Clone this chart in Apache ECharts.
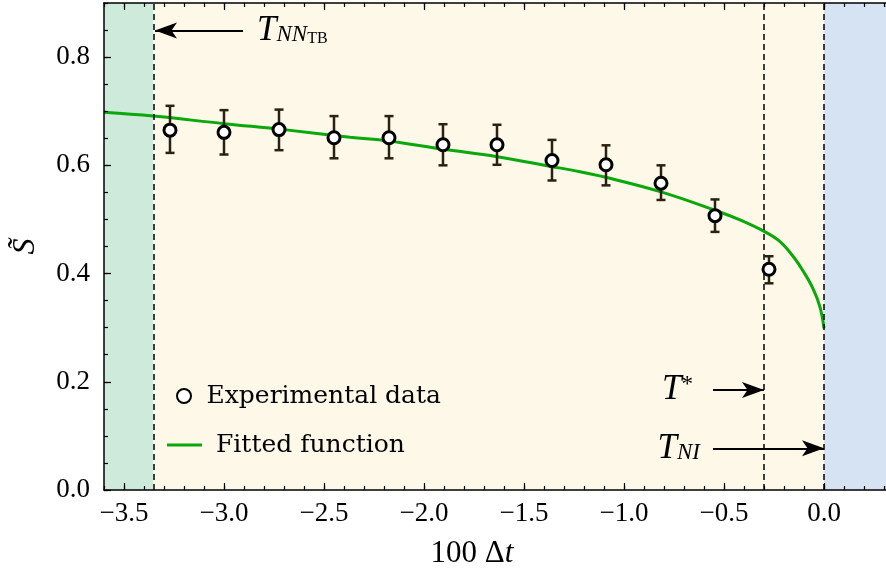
<!DOCTYPE html>
<html>
<head>
<meta charset="utf-8">
<script src="https://cdn.jsdelivr.net/npm/echarts@6.0.0/dist/echarts.min.js"></script>
<style>
  html, body { margin: 0; padding: 0; background: #fff; }
  #chart { width: 886px; height: 577px; }
</style>
</head>
<body>
<div id="chart"></div>
<script>
// measured points (100 Δt, S~) and their error bars
var expX  = [-3.27, -3.00, -2.725, -2.45, -2.175, -1.905, -1.635, -1.36, -1.09, -0.815, -0.545, -0.275];
var expY  = [0.665, 0.661, 0.666, 0.651, 0.651, 0.638, 0.638, 0.609, 0.601, 0.567, 0.507, 0.408];
var errLo = [0.623, 0.620, 0.628, 0.613, 0.613, 0.600, 0.601, 0.572, 0.563, 0.536, 0.477, 0.382];
var errHi = [0.710, 0.702, 0.703, 0.691, 0.691, 0.676, 0.675, 0.647, 0.637, 0.600, 0.537, 0.432];

// fitted curve
var fitX = [-3.6, -3.355, -3.0, -2.7, -2.37, -2.175, -1.91, -1.635, -1.365, -1.22, -1.07, -0.815, -0.545, -0.42, -0.295, -0.22, -0.153, -0.1, -0.055, -0.02, 0];
var fitY = [0.698, 0.691, 0.677, 0.666, 0.652, 0.645, 0.630, 0.616, 0.598, 0.588, 0.576, 0.551, 0.517, 0.499, 0.477, 0.459, 0.431, 0.402, 0.372, 0.338, 0.299];

// tick labels
var xMajorTicks = [-3.5, -3.0, -2.5, -2.0, -1.5, -1.0, -0.5, 0.0];
var yMajorTicks = [0.0, 0.2, 0.4, 0.6, 0.8];

// phase boundaries
var tNNTB = -3.355, tStar = -0.3, tNI = 0;
var xMin = -3.6, xMax = 0.31, yMin = 0, yMax = 0.9;

var serif = 'Liberation Serif';
var black = '#000';

function zip(a, b) {
	var out = [];
	for (var i = 0; i < a.length; i++) out.push([a[i], b[i]]);
	return out;
}
var errData = [];
for (var i = 0; i < expX.length; i++) errData.push([expX[i], errLo[i], errHi[i]]);

function minus(v) {
	return v.toFixed(1).replace('-', '\u2212');
}

function xAxisDef(pos, major) {
	return {
		type: 'value', position: pos, min: xMin, max: xMax, z: 10,
		interval: major ? undefined : 0.1,
		axisLine: { show: !major, onZero: false, lineStyle: { color: black, width: 1.5 } },
		axisTick: major
			? { inside: true, length: 7, customValues: xMajorTicks, lineStyle: { color: black, width: 1.2 } }
			: { inside: true, length: 4, lineStyle: { color: black, width: 1.2 } },
		axisLabel: (major && pos === 'bottom')
			? { customValues: xMajorTicks, formatter: minus, fontFamily: serif, fontSize: 27, color: black, margin: 10 }
			: { show: false },
		splitLine: { show: false }
	};
}

var xAxes = [xAxisDef('bottom', false), xAxisDef('bottom', true), xAxisDef('top', false), xAxisDef('top', true)];
xAxes[0].name = '100 \u0394{i|t}';
xAxes[0].nameLocation = 'middle';
xAxes[0].nameGap = 48;
xAxes[0].nameTextStyle = {
	fontFamily: serif, fontSize: 31, color: black, padding: [0, 46, 0, 0],
	rich: { i: { fontFamily: serif, fontSize: 31, fontStyle: 'italic', color: black } }
};

var yAxes = [
	{
		type: 'value', min: yMin, max: yMax, interval: 0.05, z: 10,
		axisLine: { show: true, onZero: false, lineStyle: { color: black, width: 1.5 } },
		axisTick: { inside: true, length: 4, lineStyle: { color: black, width: 1.2 } },
		axisLabel: { show: false },
		splitLine: { show: false },
		name: 'S\u0303', nameLocation: 'middle', nameGap: 62,
		nameTextStyle: { fontFamily: serif, fontSize: 32, fontStyle: 'italic', color: black }
	},
	{
		type: 'value', min: yMin, max: yMax, z: 10, position: 'left',
		axisLine: { show: false, onZero: false },
		axisTick: { inside: true, length: 7, customValues: yMajorTicks, lineStyle: { color: black, width: 1.2 } },
		axisLabel: { customValues: yMajorTicks, formatter: function (v) { return v.toFixed(1); },
			fontFamily: serif, fontSize: 27, color: black, margin: 14 },
		splitLine: { show: false }
	}
];

var mathRich = {
	t: { fontFamily: serif, fontStyle: 'italic', fontSize: 35, lineHeight: 32, color: black },
	sub: { fontFamily: serif, fontStyle: 'italic', fontSize: 23, lineHeight: 8, verticalAlign: 'bottom', color: black },
	ssub: { fontFamily: serif, fontSize: 16, lineHeight: 2, verticalAlign: 'bottom', color: black },
	sup: { fontFamily: serif, fontSize: 23, lineHeight: 14, verticalAlign: 'top', color: black }
};

function arrow(y, x0, x1, text, dist) {
	var lab = { show: true, position: 'start', distance: dist, formatter: text, rich: mathRich };
	return [
		{ coord: [x0, y], symbol: 'none', label: lab, lineStyle: { type: 'solid', width: 1.8, color: black } },
		{ coord: [x1, y], symbol: 'arrow', symbolSize: [12, 22] }
	];
}

var dashed = { type: [6, 4], color: black, width: 1.5 };

var option = {
	animation: false,
	backgroundColor: '#fff',
	grid: { left: 104, right: 0, top: 3, bottom: 87, containLabel: false, outerBoundsMode: 'none' },
	xAxis: xAxes,
	yAxis: yAxes,
	legend: [
		{
			data: ['Experimental data'], left: 171, top: 377, padding: 5,
			itemWidth: 35, itemHeight: 14, selectedMode: false,
			textStyle: { fontFamily: 'DejaVu Serif', fontSize: 25, lineHeight: 28, color: black }
		},
		{
			data: [{ name: 'Fitted function', icon: 'rect' }], left: 162, top: 426, padding: 5,
			itemWidth: 35, itemHeight: 3, selectedMode: false,
			textStyle: { fontFamily: 'DejaVu Serif', fontSize: 25, lineHeight: 28, color: black, padding: [0, 0, 0, 9] }
		}
	],
	series: [
		{
			name: 'Fitted function',
			type: 'line',
			data: zip(fitX, fitY),
			smooth: 0.4,
			symbol: 'none',
			z: 3,
			lineStyle: { color: '#0aa80a', width: 3 },
			itemStyle: { color: '#0aa80a' },
			markArea: {
				silent: true,
				data: [
					[{ xAxis: xMin, yAxis: yMin, itemStyle: { color: '#cdeadb' } }, { xAxis: tNNTB, yAxis: yMax }],
					[{ xAxis: tNNTB, yAxis: yMin, itemStyle: { color: '#fdf8e7' } }, { xAxis: tNI, yAxis: yMax }],
					[{ xAxis: tNI, yAxis: yMin, itemStyle: { color: '#d6e3f3' } }, { xAxis: xMax, yAxis: yMax }]
				]
			},
			markLine: {
				silent: true,
				symbol: 'none',
				label: { show: false },
				lineStyle: dashed,
				data: [
					{ xAxis: tNNTB },
					{ xAxis: tStar },
					{ xAxis: tNI },
					arrow(0.849, -2.905, -3.345, '{t|T}{sub|NN}{ssub|TB}', 14),
					arrow(0.185, -0.555, -0.3, '{t|T}{sup|*}', 20),
					arrow(0.077, -0.555, 0, '{t|T}{sub|NI}', 13)
				]
			}
		},
		{
			name: 'errors',
			type: 'custom',
			z: 4,
			data: errData,
			encode: { x: 0, y: [1, 2] },
			renderItem: function (params, api) {
				var x = api.value(0);
				var lo = api.coord([x, api.value(1)]);
				var hi = api.coord([x, api.value(2)]);
				var w = 4.5;
				var st = { stroke: '#2a2013', lineWidth: 2.5 };
				return {
					type: 'group',
					children: [
						{ type: 'line', shape: { x1: lo[0], y1: lo[1], x2: hi[0], y2: hi[1] }, style: st },
						{ type: 'line', shape: { x1: lo[0] - w, y1: lo[1], x2: lo[0] + w, y2: lo[1] }, style: st },
						{ type: 'line', shape: { x1: hi[0] - w, y1: hi[1], x2: hi[0] + w, y2: hi[1] }, style: st }
					]
				};
			}
		},
		{
			name: 'Experimental data',
			type: 'scatter',
			z: 5,
			data: zip(expX, expY),
			symbol: 'circle',
			symbolSize: 12,
			itemStyle: { color: '#fff', borderColor: black, borderWidth: 3, opacity: 1 }
		}
	]
};

var chart = echarts.init(document.getElementById('chart'));
chart.setOption(option);
</script>
</body>
</html>
